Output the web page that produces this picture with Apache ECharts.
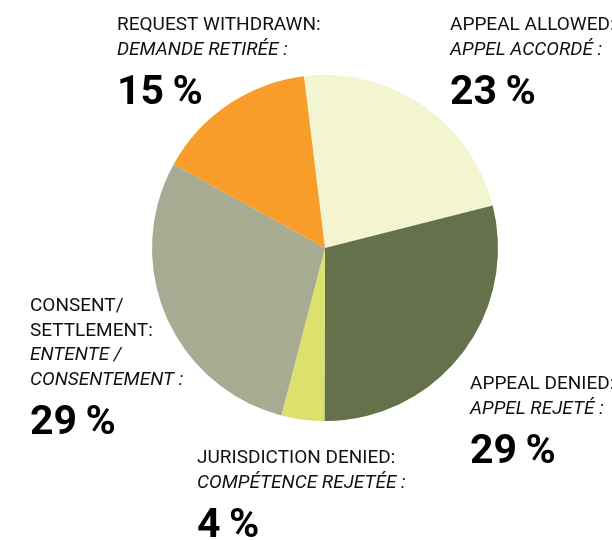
<!DOCTYPE html>
<html>
<head>
<meta charset="utf-8">
<script src="https://cdn.jsdelivr.net/npm/echarts@6/dist/echarts.min.js"></script>
<style>
  html, body { margin: 0; padding: 0; background: #fff; }
  #main { width: 612px; height: 540px; }
</style>
</head>
<body>
<div id="main"></div>
<script>
var labelsEn = ['APPEAL ALLOWED:', 'APPEAL DENIED:', 'JURISDICTION DENIED:', 'CONSENT/\nSETTLEMENT:', 'REQUEST WITHDRAWN:'];
var labelsFr = ['APPEL ACCORDÉ :', 'APPEL REJETÉ :', 'COMPÉTENCE REJETÉE :', 'ENTENTE /\nCONSENTEMENT :', 'DEMANDE RETIRÉE :'];
var values = [23, 29, 4, 29, 15];
var colors = ['#F3F5D1', '#64714A', '#DCE06C', '#A6AB92', '#F89C2A'];

// where each label block sits (top-left corner)
var labelPos = [[450, 13], [470, 372], [197, 446], [30, 294], [117, 13]];

var chartDom = document.getElementById('main');
var myChart = echarts.init(chartDom);
var font = 'Roboto, sans-serif';

function richLines(txt, style) {
    return txt.split('\n').map(function (t) { return '{' + style + '|' + t + '}'; }).join('\n');
}

var pieData = values.map(function (v, i) {
    return { value: v, name: labelsEn[i], itemStyle: { color: colors[i] } };
});

var option = {
    animation: false,
    series: [
        {
            type: 'pie',
            center: [325, 248],
            radius: [0, 173],
            startAngle: 97,
            clockwise: true,
            avoidLabelOverlap: false,
            itemStyle: { borderWidth: 0 },
            labelLine: { show: false },
            label: {
                show: true,
                position: 'outside',
                formatter: function (d) {
                    var i = d.dataIndex;
                    return richLines(labelsEn[i], 'en') + '\n' + richLines(labelsFr[i], 'fr') + '\n{pct|' + values[i] + '\u2009%}';
                },
                rich: {
                    en: { fontFamily: font, fontSize: 19, color: '#111', lineHeight: 24.5 },
                    fr: { fontFamily: font, fontSize: 19, fontStyle: 'italic', color: '#111', lineHeight: 24.5 },
                    pct: { fontFamily: font, fontSize: 41, fontWeight: 'bold', color: '#000', lineHeight: 64 }
                }
            },
            labelLayout: function (params) {
                var p = labelPos[params.dataIndex];
                return { x: p[0], y: p[1], align: 'left', verticalAlign: 'top' };
            },
            data: pieData
        }
    ]
};

option && myChart.setOption(option);
</script>
</body>
</html>
